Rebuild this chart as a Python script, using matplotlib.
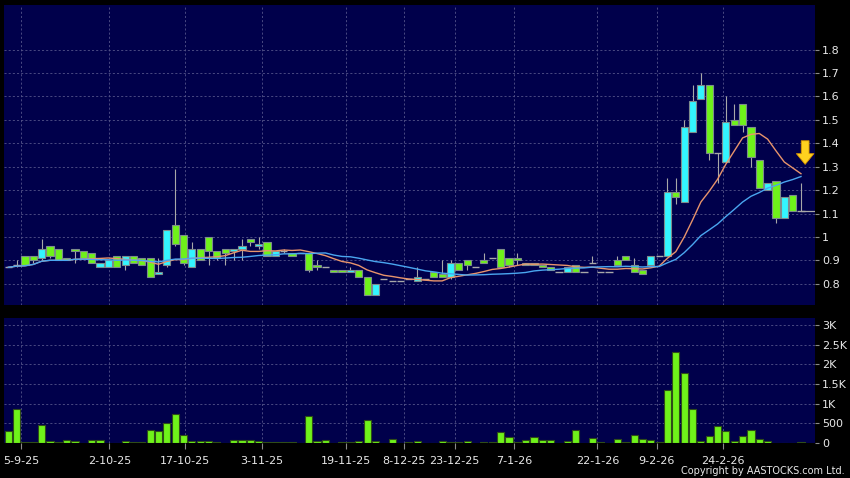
import numpy as np
import pandas as pd
import matplotlib
matplotlib.use("Agg")
import matplotlib.pyplot as plt
from matplotlib.ticker import FixedLocator, FuncFormatter

# daily OHLC (one entry per trading bar)
opens = [0.87, 0.88, 0.92, 0.92, 0.91, 0.96, 0.95, 0.91, 0.95, 0.94,
         0.93, 0.87, 0.87, 0.92, 0.88, 0.92, 0.91, 0.91, 0.84, 0.88,
         1.05, 1.01, 0.87, 0.95, 1.00, 0.94, 0.95, 0.94, 0.95, 0.99,
         0.96, 0.98, 0.92, 0.94, 0.93, 0.93, 0.93, 0.88, 0.87, 0.86,
         0.86, 0.85, 0.86, 0.83, 0.75, 0.82, 0.81, 0.81, 0.82, 0.81,
         0.82, 0.85, 0.84, 0.83, 0.89, 0.90, 0.87, 0.90, 0.91, 0.95,
         0.91, 0.91, 0.88, 0.89, 0.88, 0.87, 0.85, 0.85, 0.88, 0.85,
         0.89, 0.85, 0.85, 0.90, 0.92, 0.88, 0.86, 0.88, 0.92, 0.92,
         1.19, 1.15, 1.45, 1.59, 1.65, 1.36, 1.32, 1.50, 1.57, 1.47,
         1.33, 1.20, 1.24, 1.08, 1.18, 1.11]
highs = [0.87, 0.90, 0.92, 0.92, 0.99, 0.96, 0.95, 0.91, 0.95, 0.94,
         0.93, 0.89, 0.90, 0.92, 0.92, 0.92, 0.91, 0.91, 0.91, 1.03,
         1.29, 1.01, 0.98, 0.95, 1.00, 0.94, 0.95, 0.95, 0.99, 0.99,
         1.00, 0.98, 0.94, 0.95, 0.93, 0.93, 0.93, 0.90, 0.87, 0.86,
         0.86, 0.87, 0.86, 0.83, 0.80, 0.82, 0.81, 0.81, 0.82, 0.87,
         0.82, 0.85, 0.90, 0.90, 0.89, 0.90, 0.87, 0.93, 0.91, 0.95,
         0.91, 0.93, 0.89, 0.89, 0.88, 0.87, 0.85, 0.87, 0.88, 0.85,
         0.92, 0.85, 0.85, 0.92, 0.92, 0.91, 0.86, 0.92, 0.92, 1.25,
         1.25, 1.50, 1.65, 1.70, 1.65, 1.36, 1.60, 1.57, 1.57, 1.47,
         1.33, 1.23, 1.24, 1.17, 1.18, 1.23]
lows = [0.87, 0.87, 0.88, 0.89, 0.90, 0.91, 0.90, 0.90, 0.89, 0.91,
        0.89, 0.87, 0.87, 0.87, 0.86, 0.89, 0.88, 0.83, 0.84, 0.87,
        0.96, 0.88, 0.87, 0.90, 0.88, 0.90, 0.88, 0.90, 0.90, 0.96,
        0.95, 0.92, 0.92, 0.93, 0.92, 0.93, 0.85, 0.86, 0.87, 0.85,
        0.85, 0.85, 0.83, 0.75, 0.75, 0.82, 0.81, 0.81, 0.82, 0.81,
        0.82, 0.83, 0.83, 0.82, 0.86, 0.86, 0.87, 0.89, 0.91, 0.87,
        0.87, 0.88, 0.88, 0.88, 0.87, 0.86, 0.85, 0.85, 0.85, 0.85,
        0.89, 0.85, 0.85, 0.88, 0.90, 0.85, 0.84, 0.88, 0.92, 0.92,
        1.14, 1.15, 1.45, 1.59, 1.33, 1.23, 1.32, 1.48, 1.45, 1.30,
        1.21, 1.20, 1.06, 1.08, 1.11, 1.11]
closes = [0.87, 0.88, 0.88, 0.90, 0.95, 0.92, 0.90, 0.90, 0.94, 0.91,
          0.89, 0.89, 0.90, 0.87, 0.92, 0.89, 0.88, 0.83, 0.85, 1.03,
          0.97, 0.89, 0.95, 0.90, 0.94, 0.91, 0.93, 0.95, 0.96, 0.98,
          0.97, 0.92, 0.94, 0.94, 0.92, 0.93, 0.86, 0.87, 0.87, 0.85,
          0.85, 0.86, 0.83, 0.75, 0.80, 0.82, 0.81, 0.81, 0.82, 0.83,
          0.82, 0.83, 0.83, 0.89, 0.86, 0.88, 0.87, 0.89, 0.91, 0.87,
          0.88, 0.90, 0.89, 0.88, 0.87, 0.86, 0.85, 0.87, 0.85, 0.85,
          0.89, 0.85, 0.85, 0.88, 0.90, 0.85, 0.84, 0.92, 0.92, 1.19,
          1.17, 1.47, 1.58, 1.65, 1.36, 1.36, 1.49, 1.48, 1.48, 1.34,
          1.21, 1.23, 1.08, 1.17, 1.11, 1.11]
volumes = [313, 872, 25, 25, 466, 50, 25, 85, 50, 8,
           68, 76, 5, 5, 50, 17, 25, 339, 313, 517,
           745, 195, 50, 50, 50, 25, 5, 76, 85, 85,
           59, 25, 17, 17, 17, 0, 695, 50, 68, 0,
           25, 25, 59, 576, 42, 0, 102, 0, 17, 60,
           0, 5, 60, 26, 26, 52, 0, 17, 17, 284,
           155, 35, 69, 147, 86, 69, 0, 60, 319, 0,
           129, 35, 5, 103, 35, 215, 95, 78, 26, 1336,
           2310, 1784, 862, 60, 190, 431, 293, 60, 190, 328,
           112, 43, 10, 10, 10, 26]

tick_labels = ["5-9-25", "2-10-25", "17-10-25", "3-11-25", "19-11-25",
               "8-12-25", "23-12-25", "7-1-26", "22-1-26", "9-2-26", "24-2-26"]
tick_pos = [1.5, 12.1, 21.2, 30.4, 40.5, 47.4, 53.5, 60.6, 70.6, 77.7, 85.6]

price_ticks = [0.8, 0.9, 1.0, 1.1, 1.2, 1.3, 1.4, 1.5, 1.6, 1.7, 1.8]
vol_ticks = [0, 500, 1000, 1500, 2000, 2500, 3000]

BG = "#00004B"
UP = "#33F5FF"
DOWN = "#6FF21A"
WICK = "#A8A8A8"
GRID = "#54548A"

df = pd.DataFrame({"o": opens, "h": highs, "l": lows, "c": closes, "v": volumes})
x = np.arange(len(df))
ma10 = df["c"].rolling(10, min_periods=1).mean()
ma20 = df["c"].rolling(20, min_periods=1).mean()

fig = plt.figure(figsize=(8.5, 4.78), dpi=100, facecolor="black")
ax = fig.add_axes([4 / 850, 1 - 305 / 478, 811 / 850, 300 / 478])
axv = fig.add_axes([4 / 850, 1 - 443 / 478, 811 / 850, 125 / 478], sharex=ax)

xlim = (-0.515, 96.68)
for a in (ax, axv):
    a.set_facecolor(BG)
    for s in a.spines.values():
        s.set_visible(False)
    a.xaxis.set_major_locator(FixedLocator(tick_pos))
    a.grid(True, color=GRID, linestyle=(0, (2.5, 2.5)), linewidth=0.6)
    a.set_axisbelow(True)
    a.yaxis.tick_right()
    a.tick_params(axis="y", direction="out", length=3, pad=2, color="#8a8a8a",
                  labelcolor="#E8E8E8", labelsize=8)
ax.set_xlim(*xlim)

# candles
w = 0.86
body = (df["c"] - df["o"]).abs()
doji = body == 0
colors = np.where(df["c"] > df["o"], UP, DOWN)
ax.vlines(x, df["l"], df["h"], color=WICK, linewidth=0.8, zorder=2)
ax.bar(x[~doji], body[~doji], bottom=np.minimum(df["o"], df["c"])[~doji],
       width=w, color=colors[~doji], edgecolor="#7d8c8c", linewidth=0.8, zorder=3)
ax.hlines(df["c"][doji], x[doji] - w / 2, x[doji] + w / 2, color=WICK,
          linewidth=1.0, zorder=3)

ax.plot(x, ma10, color="#E8946C", linewidth=1.0, zorder=4)
ax.plot(x, ma20, color="#4AA6F0", linewidth=1.0, zorder=4)

# last price line
ax.hlines(closes[-1], x[-1], xlim[1], color=WICK, linewidth=0.9, zorder=3)

ax.annotate("", xy=(x[-1] + 0.5, ma10.iloc[-1] + 0.04), xytext=(0, 17),
            textcoords="offset points",
            arrowprops=dict(arrowstyle="simple,head_length=0.55,head_width=0.9,tail_width=0.4",
                            mutation_scale=14, fc="#FFD21F", ec="#D89400",
                            linewidth=0.6, shrinkA=0, shrinkB=0), zorder=5)

ax.set_ylim(0.709, 1.991)
ax.yaxis.set_major_locator(FixedLocator(price_ticks))
ax.yaxis.set_major_formatter(FuncFormatter(lambda v, p: f"{v:g}"))
ax.tick_params(axis="x", length=0, labelbottom=False)

# volume
axv.bar(x, df["v"], width=w, color=DOWN, edgecolor="#2f4d18", linewidth=0.8, zorder=3)
axv.set_ylim(0, 3175)
axv.yaxis.set_major_locator(FixedLocator(vol_ticks))
axv.yaxis.set_major_formatter(FuncFormatter(
    lambda v, p: "0" if v == 0 else (f"{v / 1000:g}K" if v >= 1000 else f"{v:g}")))
axv.set_xticklabels(tick_labels)
axv.tick_params(axis="x", direction="out", length=4, pad=5, color="#8a8a8a",
                labelcolor="#E8E8E8", labelsize=8)

fig.text(845 / 850, 1 - 471 / 478, "Copyright by AASTOCKS.com Ltd.", ha="right",
         va="center", color="#E8E8E8", fontsize=7)

fig.savefig("out.png", dpi=100, facecolor="black")
